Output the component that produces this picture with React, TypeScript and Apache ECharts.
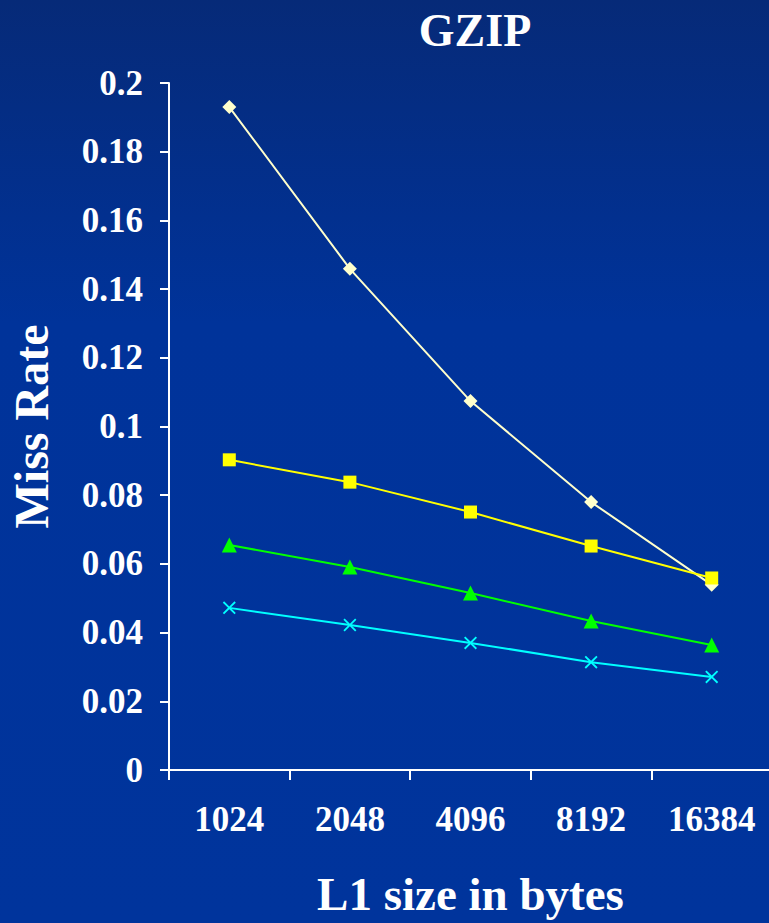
import React, { useEffect, useRef } from "react";
import * as echarts from "echarts";

const categories = ["1024", "2048", "4096", "8192", "16384"];
const seriesDiamond = [0.193, 0.1459, 0.1074, 0.078, 0.0539];
const seriesSquare = [0.0903, 0.0838, 0.0751, 0.0652, 0.0559];
const seriesTriangle = [0.0655, 0.0591, 0.0515, 0.0434, 0.0364];
const seriesCross = [0.0472, 0.0422, 0.037, 0.0314, 0.0271];

const FONT = "'Liberation Serif', 'DejaVu Serif', serif";
const CROSS =
  "path://M0,1 L1,0 L5,4 L9,0 L10,1 L6,5 L10,9 L9,10 L5,6 L1,10 L0,9 L4,5 Z";

export default function App() {
  const ref = useRef<HTMLDivElement>(null);
  useEffect(() => {
    if (!ref.current) return;
    const chart = echarts.init(ref.current, null, { renderer: "svg" });
    const mk = (name: string, data: number[], color: string, symbol: string, size: number) => ({
      name,
      type: "line",
      data,
      symbol,
      symbolSize: size,
      showSymbol: true,
      lineStyle: { color, width: 2 },
      itemStyle: { color, borderWidth: 0 },
    });
    chart.setOption({
      animation: false,
      backgroundColor: {
        type: "linear",
        x: 0,
        y: 0,
        x2: 0,
        y2: 1,
        colorStops: [
          { offset: 0, color: "#062a78" },
          { offset: 0.35, color: "#00339a" },
          { offset: 1, color: "#00349c" },
        ],
      },
      title: {
        text: "GZIP",
        left: 470,
        top: 2,
        textAlign: "center",
        textStyle: { color: "#ffffff", fontFamily: FONT, fontWeight: "bold", fontSize: 46 },
      },
      grid: {
        left: 169,
        top: 83,
        width: 603,
        height: 687,
        containLabel: false,
        outerBoundsMode: "none",
      },
      xAxis: {
        type: "category",
        data: categories,
        boundaryGap: true,
        axisLine: { lineStyle: { color: "#ffffff", width: 2 } },
        axisTick: { show: true, length: 10, lineStyle: { color: "#ffffff", width: 2 }, alignWithLabel: false },
        axisLabel: {
          color: "#ffffff",
          fontFamily: FONT,
          fontWeight: "bold",
          fontSize: 35,
          margin: 32,
        },
        name: "L1 size in bytes",
        nameLocation: "middle",
        nameGap: 100,
        nameTextStyle: { color: "#ffffff", fontFamily: FONT, fontWeight: "bold", fontSize: 47 },
      },
      yAxis: {
        type: "value",
        min: 0,
        max: 0.2,
        interval: 0.02,
        splitLine: { show: false },
        axisLine: { show: true, lineStyle: { color: "#ffffff", width: 2 } },
        axisTick: { show: true, length: 9, lineStyle: { color: "#ffffff", width: 2 } },
        axisLabel: {
          color: "#ffffff",
          fontFamily: FONT,
          fontWeight: "bold",
          fontSize: 35,
          margin: 26,
        },
        name: "Miss Rate",
        nameLocation: "middle",
        nameGap: 114,
        nameRotate: 90,
        nameTextStyle: { color: "#ffffff", fontFamily: FONT, fontWeight: "bold", fontSize: 48 },
      },
      series: [
        mk("Diamond", seriesDiamond, "#ffffcc", "diamond", 14),
        mk("Square", seriesSquare, "#ffff00", "rect", 13),
        mk("Triangle", seriesTriangle, "#00ff00", "triangle", 15),
        mk("Cross", seriesCross, "#00ffff", CROSS, 13),
      ],
    });
    return () => chart.dispose();
  }, []);
  return (
    <div
      ref={ref}
      style={{ position: "fixed", left: 0, top: 0, width: 769, height: 923 }}
    />
  );
}
